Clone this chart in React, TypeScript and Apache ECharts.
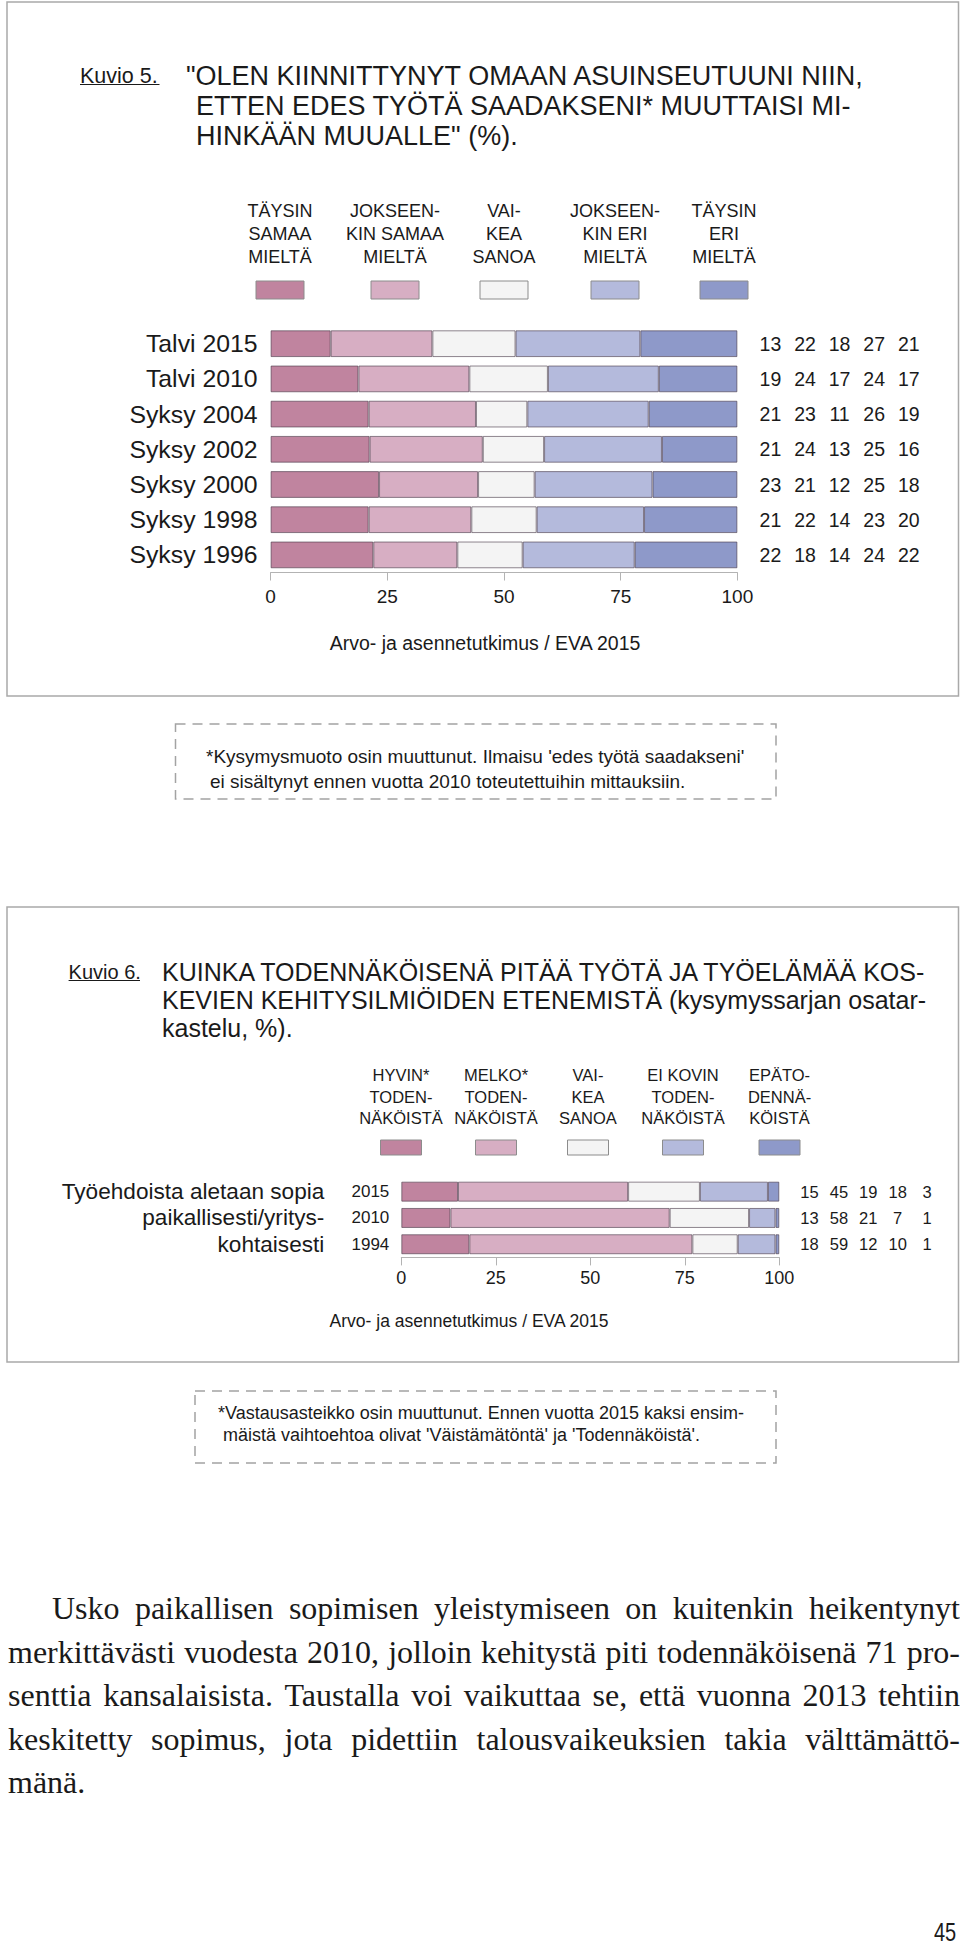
import React, { useEffect, useRef } from "react";
import * as echarts from "echarts";

// ---------- DATA ----------
const fig5Categories = ["Talvi 2015", "Talvi 2010", "Syksy 2004", "Syksy 2002", "Syksy 2000", "Syksy 1998", "Syksy 1996"];
const fig5Legend = [
  "TÄYSIN\nSAMAA\nMIELTÄ",
  "JOKSEEN-\nKIN SAMAA\nMIELTÄ",
  "VAI-\nKEA\nSANOA",
  "JOKSEEN-\nKIN ERI\nMIELTÄ",
  "TÄYSIN\nERI\nMIELTÄ",
];
const fig5TaysinSamaa = [13, 19, 21, 21, 23, 21, 22];
const fig5JokseenkinSamaa = [22, 24, 23, 24, 21, 22, 18];
const fig5VaikeaSanoa = [18, 17, 11, 13, 12, 14, 14];
const fig5JokseenkinEri = [27, 24, 26, 25, 25, 23, 24];
const fig5TaysinEri = [21, 17, 19, 16, 18, 20, 22];
const fig5Ticks = [0, 25, 50, 75, 100];
const fig5Title = [
  '"OLEN KIINNITTYNYT OMAAN ASUINSEUTUUNI NIIN,',
  "ETTEN EDES TYÖTÄ SAADAKSENI* MUUTTAISI MI-",
  'HINKÄÄN MUUALLE" (%).',
];
const fig5Note = [
  "*Kysymysmuoto osin muuttunut. Ilmaisu 'edes työtä saadakseni'",
  "ei sisältynyt ennen vuotta 2010 toteutettuihin mittauksiin.",
];

const fig6Categories = ["2015", "2010", "1994"];
const fig6RowLabel = ["Työehdoista aletaan sopia", "paikallisesti/yritys-", "kohtaisesti"];
const fig6Legend = [
  "HYVIN*\nTODEN-\nNÄKÖISTÄ",
  "MELKO*\nTODEN-\nNÄKÖISTÄ",
  "VAI-\nKEA\nSANOA",
  "EI KOVIN\nTODEN-\nNÄKÖISTÄ",
  "EPÄTO-\nDENNÄ-\nKÖISTÄ",
];
const fig6Hyvin = [15, 13, 18];
const fig6Melko = [45, 58, 59];
const fig6Vaikea = [19, 21, 12];
const fig6EiKovin = [18, 7, 10];
const fig6Epatod = [3, 1, 1];
const fig6Ticks = [0, 25, 50, 75, 100];
const fig6Title = [
  "KUINKA TODENNÄKÖISENÄ PITÄÄ TYÖTÄ JA TYÖELÄMÄÄ KOS-",
  "KEVIEN KEHITYSILMIÖIDEN ETENEMISTÄ (kysymyssarjan osatar-",
  "kastelu, %).",
];
const fig6Note = [
  "*Vastausasteikko osin muuttunut. Ennen vuotta 2015 kaksi ensim-",
  "mäistä vaihtoehtoa olivat 'Väistämätöntä' ja 'Todennäköistä'.",
];

const sourceText = "Arvo- ja asennetutkimus / EVA 2015";

const bodyLines = [
  "Usko paikallisen sopimisen yleistymiseen on kuitenkin heikentynyt",
  "merkittävästi vuodesta 2010, jolloin kehitystä piti todennäköisenä 71 pro-",
  "senttia kansalaisista. Taustalla voi vaikuttaa se, että vuonna 2013 tehtiin",
  "keskitetty sopimus, jota pidettiin talousvaikeuksien takia välttämättö-",
  "mänä.",
];
const pageNumber = "45";

// ---------- STYLE ----------
const FONT = '"Liberation Sans", Arial, Helvetica, sans-serif';
const SERIF = '"Liberation Serif", "DejaVu Serif", serif';
const INK = "#1a1a1a";
const palette = ["#c0849f", "#d7aec3", "#f4f4f4", "#b4badc", "#8e99c9"];
const BORDER = "rgba(70,55,70,0.6)";
const AXIS = "#b3b3b3";

function txt(text: string, x: number, y: number, size: number, align = "left", lineHeight?: number) {
  return {
    type: "text",
    x,
    y,
    silent: true,
    style: {
      text,
      fontSize: size,
      fontFamily: FONT,
      fill: INK,
      align,
      verticalAlign: "middle",
      lineHeight: lineHeight || Math.round(size * 1.2),
    },
  };
}

function stackSeries(
  groups: number[][],
  gridIdx: number,
  dist: number,
  tokenW: number,
  fontSize: number
) {
  const n = groups[0].length;
  const sums = Array.from({ length: n }, (_, i) => groups.reduce((s, g) => s + g[i], 0));
  const rich: any = {};
  groups.forEach((_, k) => {
    rich["c" + k] = { width: tokenW, align: "center", fontSize, fontFamily: FONT, color: INK };
  });
  return groups.map((g, k) => ({
    type: "bar",
    stack: "s" + gridIdx,
    xAxisIndex: gridIdx,
    yAxisIndex: gridIdx,
    barCategoryGap: "24%",
    silent: true,
    data: g.map((v, i) => (v * 100) / sums[i]),
    itemStyle: { color: palette[k], borderColor: BORDER, borderWidth: 1 },
    label:
      k === groups.length - 1
        ? {
            show: true,
            position: "right",
            distance: dist,
            fontSize,
            fontFamily: FONT,
            color: INK,
            formatter: (p: any) => groups.map((gg, kk) => `{c${kk}|${gg[p.dataIndex]}}`).join(""),
            rich,
          }
        : { show: false },
  }));
}

function valueAxis(gridIndex: number, ticks: number[], fontSize: number, margin: number) {
  return {
    type: "value",
    gridIndex,
    min: ticks[0],
    max: ticks[ticks.length - 1],
    interval: ticks[1] - ticks[0],
    axisLine: { show: true, lineStyle: { color: AXIS, width: 1 } },
    axisTick: { show: true, length: 8, lineStyle: { color: AXIS, width: 1 } },
    splitLine: { show: false },
    axisLabel: { fontSize, fontFamily: FONT, color: INK, margin },
  };
}

function buildOption() {
  const fig5Groups = [fig5TaysinSamaa, fig5JokseenkinSamaa, fig5VaikeaSanoa, fig5JokseenkinEri, fig5TaysinEri];
  const fig6Groups = [fig6Hyvin, fig6Melko, fig6Vaikea, fig6EiKovin, fig6Epatod];

  const legend5X = [280, 395, 504, 615, 724];
  const legend6X = [401, 496, 588, 683, 779.5];

  const graphic: any[] = [];
  // frames
  graphic.push({
    type: "rect",
    silent: true,
    shape: { x: 7, y: 2, width: 951.5, height: 694 },
    style: { fill: "none", stroke: "#a9a9a9", lineWidth: 1.5 },
  });
  graphic.push({
    type: "rect",
    silent: true,
    shape: { x: 7, y: 907, width: 951.5, height: 455 },
    style: { fill: "none", stroke: "#a9a9a9", lineWidth: 1.5 },
  });

  // figure 5 heading
  graphic.push(txt("Kuvio 5.", 80, 75.5, 21.5));
  graphic.push({
    type: "line",
    silent: true,
    shape: { x1: 80, y1: 84.5, x2: 159.5, y2: 84.5 },
    style: { stroke: INK, lineWidth: 1 },
  });
  const t5x = [186, 196, 196];
  fig5Title.forEach((line, i) => graphic.push(txt(line, t5x[i], 75.5 + i * 30, 27)));

  // figure 5 legend
  fig5Legend.forEach((lab, k) => {
    graphic.push(txt(lab, legend5X[k], 234, 18, "center", 23));
    graphic.push({
      type: "rect",
      silent: true,
      shape: { x: legend5X[k] - 24, y: 281, width: 48, height: 18 },
      style: { fill: palette[k], stroke: "#8c8c8c", lineWidth: 1 },
    });
  });
  graphic.push(txt(sourceText, 485, 643, 19.5, "center"));

  // note 1
  graphic.push({
    type: "rect",
    silent: true,
    shape: { x: 175.5, y: 724, width: 600.5, height: 75 },
    style: { fill: "none", stroke: "#a3a3a3", lineWidth: 1.5, lineDash: [10, 7] },
  });
  graphic.push(txt(fig5Note[0], 206, 756.5, 19));
  graphic.push(txt(fig5Note[1], 210, 781.5, 19));

  // figure 6 heading
  graphic.push(txt("Kuvio 6.", 68.6, 972, 20));
  graphic.push({
    type: "line",
    silent: true,
    shape: { x1: 68.6, y1: 980.5, x2: 140, y2: 980.5 },
    style: { stroke: INK, lineWidth: 1 },
  });
  fig6Title.forEach((line, i) => graphic.push(txt(line, 162, 971.7 + i * 28.3, 25)));

  // figure 6 legend
  fig6Legend.forEach((lab, k) => {
    graphic.push(txt(lab, legend6X[k], 1096.5, 16.5, "center", 21.5));
    graphic.push({
      type: "rect",
      silent: true,
      shape: { x: legend6X[k] - 20.5, y: 1140, width: 41, height: 15 },
      style: { fill: palette[k], stroke: "#8c8c8c", lineWidth: 1 },
    });
  });
  graphic.push(txt(sourceText, 469, 1321, 17.5, "center"));

  // note 2
  graphic.push({
    type: "rect",
    silent: true,
    shape: { x: 195, y: 1391, width: 581, height: 72 },
    style: { fill: "none", stroke: "#a3a3a3", lineWidth: 1.5, lineDash: [10, 7] },
  });
  graphic.push(txt(fig6Note[0], 218, 1413, 18));
  graphic.push(txt(fig6Note[1], 223, 1435, 18));

  return {
    animation: false,
    backgroundColor: "#ffffff",
    textStyle: { fontFamily: FONT },
    grid: [
      { left: 270.6, top: 326.1, width: 466.8, height: 246.4, containLabel: false, outerBoundsMode: "none" },
      { left: 401.3, top: 1178.5, width: 378, height: 78.9, containLabel: false, outerBoundsMode: "none" },
    ],
    xAxis: [valueAxis(0, fig5Ticks, 19, 14), valueAxis(1, fig6Ticks, 18, 12)],
    yAxis: [
      {
        type: "category",
        gridIndex: 0,
        inverse: true,
        data: fig5Categories,
        axisLine: { show: false },
        axisTick: { show: false },
        axisLabel: { fontSize: 24.8, fontFamily: FONT, color: INK, margin: 13, interval: 0 },
      },
      {
        type: "category",
        gridIndex: 1,
        inverse: true,
        data: fig6Categories,
        axisLine: { show: false },
        axisTick: { show: false },
        axisLabel: { fontSize: 17, fontFamily: FONT, color: INK, margin: 12, interval: 0 },
      },
      {
        type: "category",
        gridIndex: 1,
        inverse: true,
        position: "left",
        data: fig6Categories,
        axisLine: { show: false },
        axisTick: { show: false },
        axisLabel: {
          fontSize: 22.6,
          fontFamily: FONT,
          color: INK,
          margin: 77,
          interval: 0,
          hideOverlap: false,
          formatter: (_v: string, i: number) => fig6RowLabel[i],
        },
      },
    ],
    series: [
      ...stackSeries(fig5Groups, 0, 15.7, 34.6, 19.5),
      ...stackSeries(fig6Groups, 1, 15.5, 29.4, 16.5),
    ],
    graphic,
  };
}

export default function App() {
  const ref = useRef<HTMLDivElement>(null);
  useEffect(() => {
    if (!ref.current) return;
    const chart = echarts.init(ref.current, null, { renderer: "svg" });
    chart.setOption(buildOption() as any);
    return () => chart.dispose();
  }, []);

  const lineTop0 = 1587;
  const lineStep = 43.5;
  return (
    <div
      style={{
        position: "absolute",
        left: 0,
        top: 0,
        width: 960,
        height: 1948,
        background: "#ffffff",
        overflow: "hidden",
      }}
    >
      <div ref={ref} style={{ position: "absolute", left: 0, top: 0, width: 960, height: 1480 }} />
      {bodyLines.map((line, i) => {
        const last = i === bodyLines.length - 1;
        const left = i === 0 ? 52 : 8;
        const words = line.split(" ");
        return (
          <div
            key={i}
            style={{
              position: "absolute",
              left,
              top: lineTop0 + i * lineStep,
              width: 960 - left,
              height: lineStep,
              lineHeight: lineStep + "px",
              fontFamily: SERIF,
              fontSize: 32,
              color: INK,
              display: "flex",
              flexWrap: "nowrap",
              justifyContent: last ? "flex-start" : "space-between",
              whiteSpace: "nowrap",
            }}
          >
            {last ? <span>{line}</span> : words.map((w, j) => <span key={j}>{w}</span>)}
          </div>
        );
      })}
      <div
        style={{
          position: "absolute",
          left: 934,
          top: 1917,
          lineHeight: "30px",
          fontSize: 25,
          fontFamily: FONT,
          color: INK,
          transform: "scaleX(0.8)",
          transformOrigin: "left center",
        }}
      >
        {pageNumber}
      </div>
    </div>
  );
}
